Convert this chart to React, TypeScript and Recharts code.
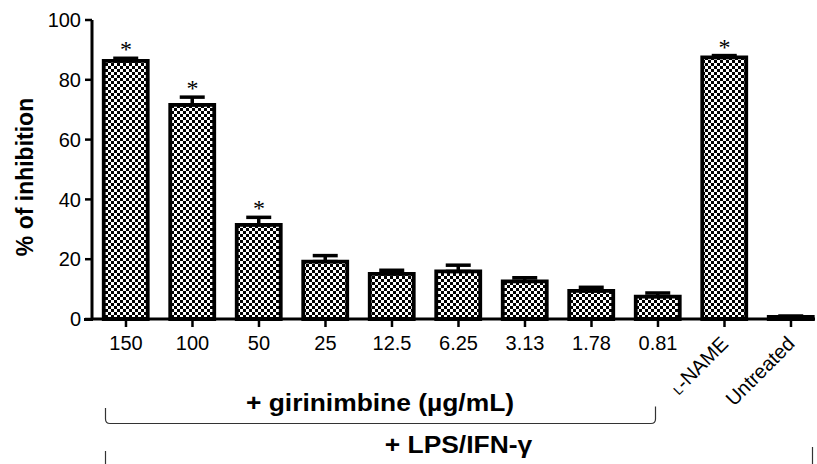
import React from 'react';
import { ComposedChart, Bar, ErrorBar, Scatter, XAxis, YAxis } from 'recharts';

const categories = ['150', '100', '50', '25', '12.5', '6.25', '3.13', '1.78', '0.81', 'L-NAME', 'Untreated'];
const inhibition = [86.3, 71.6, 31.5, 19.2, 15.1, 15.9, 12.6, 9.4, 7.5, 87.5, 0.7];
const errors = [0.9, 2.6, 2.5, 2.0, 1.2, 2.1, 1.2, 1.2, 1.2, 0.6, 0.3];
const significant = [true, true, true, false, false, false, false, false, false, true, false];
const yTicks = [0, 20, 40, 60, 80, 100];

const data = categories.map((c, i) => ({
  idx: i,
  name: c,
  value: inhibition[i],
  err: [0, errors[i]],
}));
const starData = categories
  .map((c, i) => ({ idx: i, top: inhibition[i] + errors[i], sig: significant[i] }))
  .filter((d) => d.sig);

const FONT = '"Liberation Sans", Arial, Helvetica, sans-serif';

const XTick = (props: any) => {
  const { x, y, payload } = props;
  const i = payload.value as number;
  const label = categories[i];
  if (i < 9) {
    return (
      <text x={x} y={y} dy="0.71em" textAnchor="middle" fontSize={20} fontFamily={FONT} fill="#000">
        {label}
      </text>
    );
  }
  return (
    <g transform={`translate(${x + 5},${y + 9}) rotate(-45)`}>
      <text x={0} y={0} textAnchor="end" fontSize={20} fontFamily={FONT} fill="#000">
        {label === 'L-NAME' ? (
          <>
            <tspan fontSize={13}>L</tspan>
            <tspan>-NAME</tspan>
          </>
        ) : (
          label
        )}
      </text>
    </g>
  );
};

const Star = (props: any) => {
  const { cx, cy } = props;
  return (
    <text x={cx} y={cy - 1} textAnchor="middle" fontSize={24} fontFamily='"Liberation Serif", "Times New Roman", serif' fill="#000">
      *
    </text>
  );
};

export default function App() {
  return (
    <div style={{ position: 'absolute', left: 0, top: 0, width: 817, height: 464, background: '#fff' }}>
      <ComposedChart
        width={817}
        height={464}
        data={data}
        margin={{ top: 20, right: 2, bottom: 0, left: 0 }}
      >
        <defs>
          <pattern id="checker" width="6" height="6" patternUnits="userSpaceOnUse">
            <rect x="0" y="0" width="6" height="6" fill="#fff" />
            <rect x="0" y="0" width="3" height="3" fill="#000" />
            <rect x="3" y="3" width="3" height="3" fill="#000" />
          </pattern>
        </defs>
        <XAxis
          dataKey="idx"
          type="number"
          domain={[-0.511, 10.361]}
          allowDataOverflow
          ticks={[0, 1, 2, 3, 4, 5, 6, 7, 8, 9, 10]}
          interval={0}
          height={145}
          tickSize={8}
          tickMargin={9}
          axisLine={{ stroke: '#000', strokeWidth: 3 }}
          tickLine={{ stroke: '#000', strokeWidth: 2.5 }}
          tick={<XTick />}
        />
        <YAxis
          type="number"
          domain={[0, 100]}
          ticks={yTicks}
          width={92}
          tickSize={7}
          tickMargin={4}
          axisLine={{ stroke: '#000', strokeWidth: 3 }}
          tickLine={{ stroke: '#000', strokeWidth: 2.5 }}
          tick={{ fill: '#000', fontSize: 20, fontFamily: FONT }}
        />
        <Bar dataKey="value" barSize={44} fill="url(#checker)" stroke="#000" strokeWidth={3.8} isAnimationActive={false}>
          <ErrorBar dataKey="err" width={12.5} strokeWidth={3.5} stroke="#000" direction="y" isAnimationActive={false} />
        </Bar>
        <Scatter data={starData} dataKey="top" shape={<Star />} isAnimationActive={false} />
      </ComposedChart>
      <svg
        width={817}
        height={464}
        style={{ position: 'absolute', left: 0, top: 0, pointerEvents: 'none' }}
      >
        <line x1={84} y1={319.5} x2={93} y2={319.5} stroke="#000" strokeWidth={3} />
        <text
          transform="translate(33,177) rotate(-90)"
          textAnchor="middle"
          fontSize={23}
          fontWeight="bold"
          fontFamily={FONT}
          fill="#000"
        >
          % of inhibition
        </text>
        <path
          d="M105.5,408 L105.5,419 Q105.5,423.5 110,423.5 L651,423.5 Q655.5,423.5 655.5,419 L655.5,406.5"
          fill="none"
          stroke="#333"
          strokeWidth={1.2}
        />
        <text
          transform="translate(380,411) scale(1.1,1)"
          textAnchor="middle"
          fontSize={24}
          fontWeight="bold"
          fontFamily={FONT}
          fill="#000"
        >
          + girinimbine (µg/mL)
        </text>
        <text
          transform="translate(458.5,453) scale(1.1,1)"
          textAnchor="middle"
          fontSize={24}
          fontWeight="bold"
          fontFamily={FONT}
          fill="#000"
        >
          + LPS/IFN-γ
        </text>
        <line x1={105.5} y1={451} x2={105.5} y2={470} stroke="#333" strokeWidth={1.2} />
        <line x1={812.5} y1={447} x2={812.5} y2={470} stroke="#333" strokeWidth={1.2} />
      </svg>
    </div>
  );
}
